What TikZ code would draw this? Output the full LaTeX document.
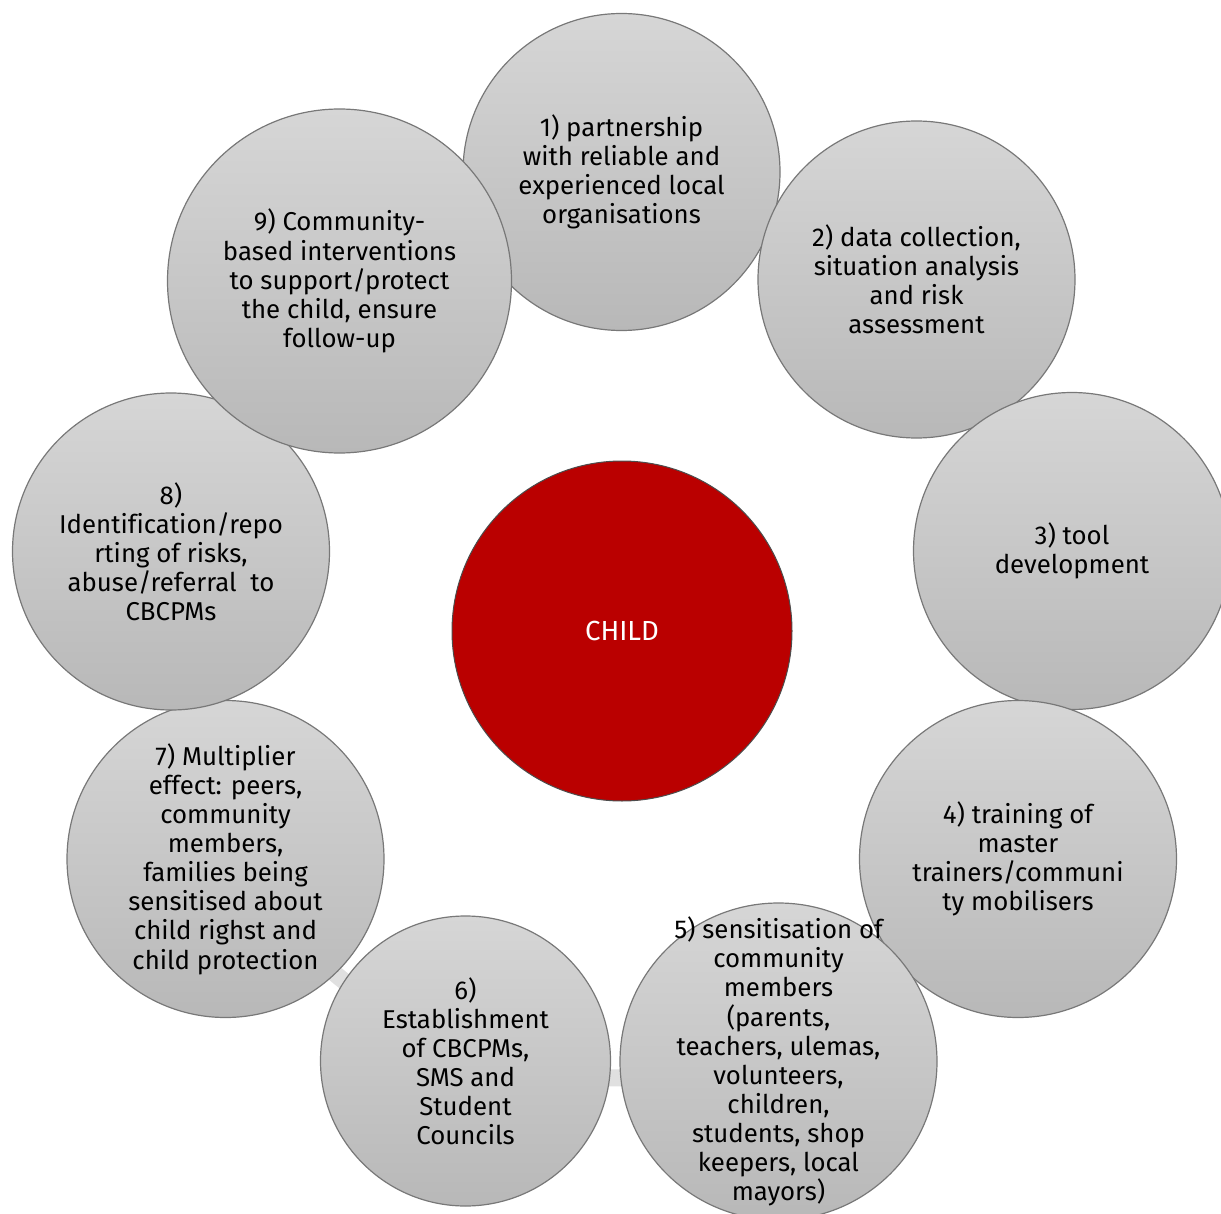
\documentclass[tikz,border=0pt]{standalone}
\usepackage{fontspec}
\setmainfont{Fira Sans}[Ligatures=NoCommon]
\definecolor{ringgray}{RGB}{224,224,224}
\definecolor{bubbletop}{RGB}{214,214,214}
\definecolor{bubblebottom}{RGB}{184,184,184}
\definecolor{bubbleline}{RGB}{120,120,120}
\definecolor{childred}{RGB}{186,0,0}
\begin{document}
\begin{tikzpicture}[x=0.5pt,y=-0.5pt,
  bubble/.style={circle,draw=bubbleline,line width=0.6pt,inner sep=0pt,
    top color=bubbletop,bottom color=bubblebottom,minimum size=158.5pt},
  bubbletext/.style={align=center,inner sep=0pt,text=black,
    font=\fontsize{12.9}{14.55}\selectfont},
  core/.style={circle,draw=black!70,line width=0.5pt,fill=childred,
    minimum size=170pt,inner sep=0pt,text=white,
    font=\fontsize{13.8}{16}\selectfont}]
\useasboundingbox (0,0) rectangle (1221,1214);
\clip (0,0) rectangle (1221,1214);
% centre of the cycle and the light ring joining the bubbles
\coordinate (hub) at (622,631);
\draw[ringgray,line width=8.5pt] (hub) circle[radius=223.5pt];
% the child in the middle
\node[core] (child) at (hub) {CHILD};
% the nine steps around it
\node[bubble] (s1) at (621.5,172) {};
\node[bubbletext] (t1) at (s1) {1) partnership\\with reliable and\\experienced local\\organisations};
\node[bubble] (s2) at (916.5,279.5) {};
\node[bubbletext] (t2) at (s2) {2) data collection,\\situation analysis\\and risk\\assessment};
\node[bubble] (s3) at (1072,551) {};
\node[bubbletext] (t3) at (s3) {3) tool\\development};
\node[bubble] (s4) at (1018,859) {};
\node[bubbletext] (t4) at (s4) {4) training of\\master\\trainers/communi\\ty mobilisers};
\node[bubble] (s5) at (778.5,1061.5) {};
\node[bubbletext] (t5) at (s5) {5) sensitisation of\\community\\members\\(parents,\\teachers, ulemas,\\volunteers,\\children,\\students, shop\\keepers, local\\mayors)};
\node[bubble,minimum size=145pt] (s6) at (465.5,1061) {};
\node[bubbletext] (t6) at (s6) {6)\\Establishment\\of CBCPMs,\\SMS and\\Student\\Councils};
\node[bubble] (s7) at (225.5,859) {};
\node[bubbletext] (t7) at (s7) {7) Multiplier\\effect: peers,\\community\\members,\\families being\\sensitised about\\child righst and\\child protection};
\node[bubble] (s8) at (171,551.5) {};
\node[bubbletext] (t8) at (s8) {8)\\Identification/repo\\rting of risks,\\abuse/referral\ \ to\\CBCPMs};
\node[bubble,minimum size=172pt] (s9) at (339.5,281) {};
\node[bubbletext] (t9) at (s9) {9) Community-\\based interventions\\to support/protect\\the child, ensure\\follow-up};
\end{tikzpicture}
\end{document}
